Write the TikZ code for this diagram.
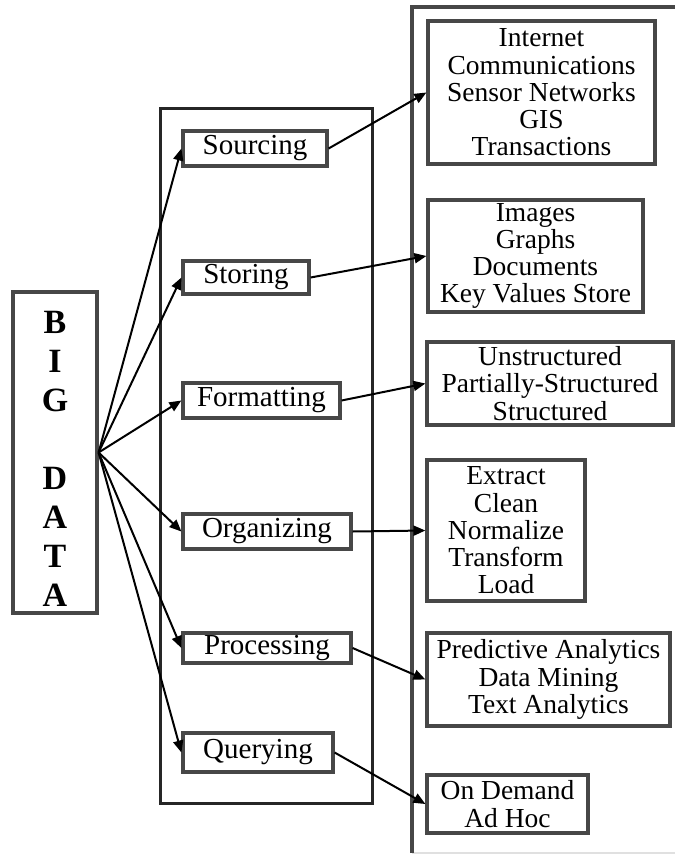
\documentclass[tikz,border=0pt]{standalone}
\usepackage{fontspec}
\setmainfont{Liberation Serif}
\usetikzlibrary{arrows.meta}
\begin{document}
\begin{tikzpicture}[x=1pt,y=-1pt,
  bx/.style={draw=black!72,line width=3.2pt,inner sep=0pt},
  mid/.style={bx,font=\fontsize{29}{29}\selectfont},
  rt/.style={bx,align=center,font=\fontsize{27.5}{27.3}\selectfont},
  arr/.style={line width=2pt,-{Triangle[length=12pt,width=10pt]}}]
\useasboundingbox (0,0) rectangle (675,855);
% outer containers
\coordinate (rtl) at (412,7);
\coordinate (rtr) at (675,7);
\coordinate (rbl) at (412,853);
\coordinate (rbr) at (675,853);
\draw[black!12,line width=1.5pt] (rbl) -- (rbr);
\draw[draw=black!72,line width=3.4pt] (rtr) -- (rtl) -- (rbl);
\node[bx,draw=black!85,line width=3pt,minimum width=212pt,minimum height=695pt] (midbox) at (266,455.5) {};
% BIG DATA
\node[bx,minimum width=84pt,minimum height=321pt,align=center,
  font=\fontsize{34}{39}\selectfont\bfseries] (big) at (55,452.5)
  {\rule{0pt}{34pt}B\\I\\G\\[39pt]D\\A\\T\\A};
% middle boxes
\node[mid,minimum width=144pt,minimum height=35pt] (src) at (255,148.5) {Sourcing};
\node[mid,minimum width=126pt,minimum height=33pt] (sto) at (246,277.5) {Storing};
\node[mid,minimum width=157pt,minimum height=35pt] (fmt) at (261.5,400.5) {Formatting};
\node[mid,minimum width=168pt,minimum height=35pt] (org) at (267,531.5) {Organizing};
\node[mid,minimum width=168pt,minimum height=30pt] (pro) at (267,648) {Processing};
\node[mid,minimum width=150pt,minimum height=39pt] (qry) at (258,752.5) {Querying};
% right boxes
\node[rt,minimum width=227pt,minimum height=143pt] (r1) at (541.5,92.5)
  {Internet\\Communications\\Sensor Networks\\GIS\\Transactions};
\node[rt,minimum width=215pt,minimum height=112pt] (r2) at (535.5,256)
  {Images\\Graphs\\Documents\\Key Values Store};
\node[rt,minimum width=246pt,minimum height=83pt] (r3) at (550,383.5)
  {Unstructured\\Partially-Structured\\Structured};
\node[rt,minimum width=158pt,minimum height=141pt] (r4) at (506,530.5)
  {Extract\\Clean\\Normalize\\Transform\\Load};
\node[rt,minimum width=243pt,minimum height=93pt] (r5) at (548.5,679.5)
  {Predictive Analytics\\Data Mining\\Text Analytics};
\node[rt,minimum width=161pt,minimum height=58pt] (r6) at (507.5,804)
  {On Demand\\Ad Hoc};
% arrows from BIG DATA
\foreach \t in {src,sto,fmt,org,pro,qry}
  \draw[arr] (big.east) -- (\t.west);
% arrows to right boxes
\draw[arr] (src.east) -- (r1.west);
\draw[arr] (sto.east) -- (r2.west);
\draw[arr] (fmt.east) -- (r3.west);
\draw[arr] (org.east) -- (r4.west);
\draw[arr] (pro.east) -- (r5.west);
\draw[arr] (qry.east) -- (r6.west);
\end{tikzpicture}
\end{document}
